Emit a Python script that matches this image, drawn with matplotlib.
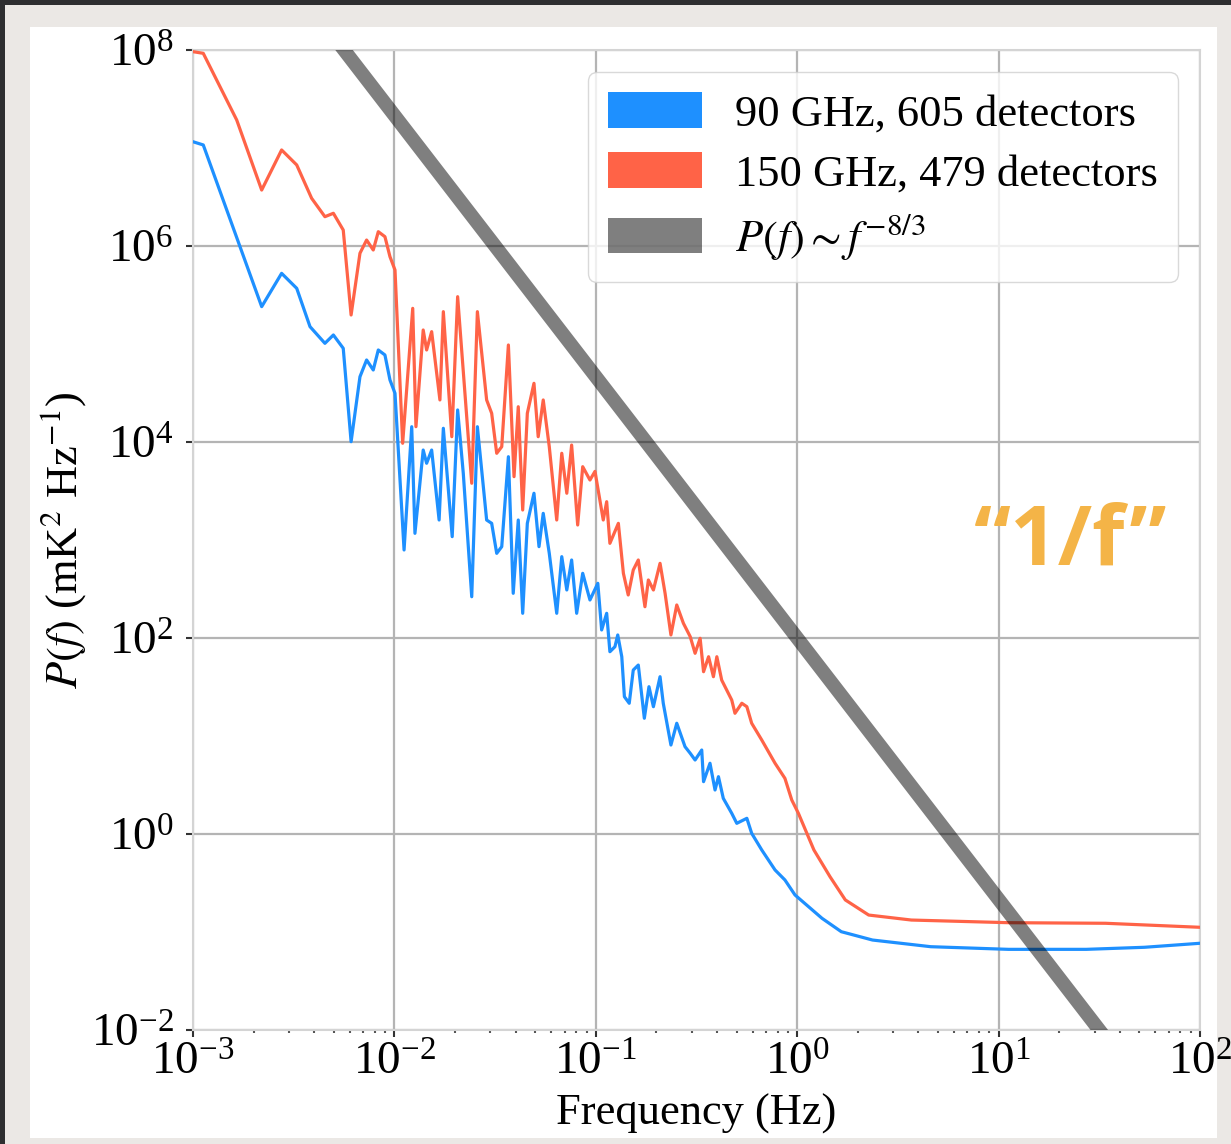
import numpy as np
import matplotlib
matplotlib.use("Agg")
import matplotlib.pyplot as plt
from matplotlib.patches import Patch, Rectangle

plt.rcParams['font.family'] = 'serif'
plt.rcParams['font.serif'] = ['Liberation Serif', 'DejaVu Serif']
plt.rcParams['mathtext.fontset'] = 'stix'

# ---------------------------------------------------------------
# Data (log10 frequency, log10 power)
# ---------------------------------------------------------------
log_freq_150 = [
    -3.000, -2.949, -2.783, -2.659, -2.560, -2.485, -2.411, -2.345, -2.303, -2.254,
    -2.215, -2.171, -2.138, -2.105, -2.080, -2.047, -2.022, -1.997, -1.959, -1.909,
    -1.893, -1.857, -1.840, -1.815, -1.774, -1.757, -1.715, -1.686, -1.661, -1.616,
    -1.588, -1.542, -1.517, -1.492, -1.467, -1.434, -1.406, -1.385, -1.363, -1.340,
    -1.307, -1.286, -1.261, -1.231, -1.194, -1.169, -1.144, -1.120, -1.090, -1.065,
    -1.029, -1.004, -0.963, -0.946, -0.930, -0.888, -0.863, -0.839, -0.814, -0.789,
    -0.756, -0.739, -0.714, -0.681, -0.656, -0.627, -0.598, -0.565, -0.531, -0.507,
    -0.482, -0.465, -0.440, -0.416, -0.399, -0.375, -0.325, -0.309, -0.275, -0.250,
    -0.226, -0.176, -0.110, -0.061, -0.027, 0.006, 0.083, 0.163, 0.239, 0.355,
    0.567, 1.049, 1.531, 2.000,
]
log_power_150 = [
    7.983, 7.966, 7.286, 6.571, 6.980, 6.827, 6.487, 6.299, 6.334, 6.163,
    5.296, 5.926, 6.061, 5.959, 6.146, 6.095, 5.891, 5.755, 3.987, 5.364,
    4.156, 5.143, 4.939, 5.126, 4.429, 5.330, 4.054, 5.483, 4.803, 3.579,
    5.330, 4.429, 4.293, 3.885, 3.952, 4.990, 3.646, 4.360, 3.306, 4.293,
    4.599, 4.054, 4.429, 3.952, 3.204, 3.885, 3.477, 3.969, 3.153, 3.748,
    3.612, 3.700, 3.204, 3.391, 2.966, 3.170, 2.660, 2.439, 2.694, 2.796,
    2.319, 2.592, 2.490, 2.762, 2.456, 2.031, 2.337, 2.150, 2.013, 1.844,
    1.997, 1.656, 1.809, 1.605, 1.809, 1.571, 1.367, 1.232, 1.334, 1.299,
    1.130, 0.959, 0.722, 0.568, 0.347, 0.211, -0.163, -0.436, -0.673, -0.827,
    -0.878, -0.905, -0.911, -0.952,
]

log_freq_90 = [
    -3.000, -2.949, -2.659, -2.560, -2.485, -2.419, -2.345, -2.303, -2.254, -2.215,
    -2.171, -2.138, -2.105, -2.080, -2.047, -2.022, -1.997, -1.952, -1.914, -1.898,
    -1.857, -1.840, -1.815, -1.778, -1.757, -1.713, -1.686, -1.658, -1.616, -1.588,
    -1.542, -1.517, -1.492, -1.467, -1.434, -1.410, -1.385, -1.363, -1.340, -1.307,
    -1.282, -1.261, -1.231, -1.194, -1.169, -1.144, -1.120, -1.095, -1.065, -1.029,
    -0.990, -0.971, -0.946, -0.930, -0.905, -0.891, -0.871, -0.858, -0.834, -0.814,
    -0.789, -0.759, -0.736, -0.714, -0.681, -0.665, -0.627, -0.598, -0.557, -0.531,
    -0.507, -0.474, -0.465, -0.433, -0.408, -0.391, -0.367, -0.325, -0.300, -0.250,
    -0.226, -0.176, -0.110, -0.061, -0.011, 0.123, 0.219, 0.374, 0.663, 1.049,
    1.435, 1.724, 2.000,
]
log_power_90 = [
    7.064, 7.031, 5.381, 5.721, 5.568, 5.177, 5.007, 5.092, 4.956, 4.003,
    4.666, 4.837, 4.735, 4.939, 4.888, 4.633, 4.497, 2.898, 4.156, 3.068,
    3.918, 3.783, 3.918, 3.204, 4.140, 3.034, 4.327, 3.681, 2.421, 4.156,
    3.204, 3.170, 2.864, 2.932, 3.850, 2.456, 3.204, 2.252, 3.170, 3.477,
    2.932, 3.272, 2.864, 2.252, 2.830, 2.490, 2.796, 2.252, 2.660, 2.388,
    2.558, 2.082, 2.252, 1.860, 1.911, 2.031, 1.809, 1.401, 1.334, 1.673,
    1.724, 1.181, 1.503, 1.299, 1.605, 1.334, 0.908, 1.130, 0.891, 0.823,
    0.755, 0.857, 0.534, 0.722, 0.449, 0.585, 0.364, 0.211, 0.109, 0.160,
    0.007, -0.163, -0.367, -0.469, -0.622, -0.860, -0.997, -1.082, -1.150, -1.177,
    -1.177, -1.156, -1.115,
]

# reference power law P(f) ~ f^(-8/3), normalised to 10^2 at 1 Hz
ref_amplitude = 1e2
ref_exponent = -8.0 / 3.0
ref_freq = [1e-3, 1e2]

labels = ["90 GHz, 605 detectors", "150 GHz, 479 detectors", r"$P(f) \sim f^{-8/3}$"]
colors = ["dodgerblue", "tomato", "black"]

freq_150 = 10 ** np.array(log_freq_150)
power_150 = 10 ** np.array(log_power_150)
freq_90 = 10 ** np.array(log_freq_90)
power_90 = 10 ** np.array(log_power_90)
ref_f = np.array(ref_freq)
ref_p = ref_amplitude * ref_f ** ref_exponent

# ---------------------------------------------------------------
# Figure with the slide-like frame around the plot
# ---------------------------------------------------------------
W, H = 1231, 1144
fig = plt.figure(figsize=(W / 100, H / 100), dpi=100, facecolor="#2e2e30")
fig.patches.append(Rectangle((5 / W, 0), 1 - 5 / W, 1 - 5 / H,
                             transform=fig.transFigure, facecolor="#ebe8e5",
                             edgecolor="none", zorder=-10))
fig.patches.append(Rectangle((30 / W, 6 / H), (1217 - 30) / W, (1138 - 27) / H,
                             transform=fig.transFigure, facecolor="white",
                             edgecolor="none", zorder=-9))

ax = fig.add_axes([193 / W, 1 - 1030 / H, (1200 - 193) / W, (1030 - 50) / H])

ax.plot(freq_90, power_90, color=colors[0], lw=2.3, zorder=3)
ax.plot(freq_150, power_150, color=colors[1], lw=2.3, zorder=3)
ax.plot(ref_f, ref_p, color=colors[2], lw=10, alpha=0.5, solid_capstyle="butt", zorder=4)

ax.set_xscale("log")
ax.set_yscale("log")
ax.set_xlim(1e-3, 1e2)
ax.set_ylim(1e-2, 1e8)
ax.set_yticks([1e-2, 1e0, 1e2, 1e4, 1e6, 1e8])
ax.yaxis.set_minor_locator(matplotlib.ticker.NullLocator())

ax.grid(True, which="major", color="#b4b4b4", lw=1.6)
ax.set_axisbelow(True)
for s in ax.spines.values():
    s.set_color("#d4d4d4")
    s.set_linewidth(1.5)

ax.tick_params(which="major", length=5, width=1.5, color="#333333", labelsize=34)
ax.tick_params(axis="y", which="major", pad=9)
ax.tick_params(axis="x", which="major", pad=4)
ax.tick_params(which="minor", length=2, width=1.5, color="#555555")

ax.set_xlabel("Frequency (Hz)", fontsize=32, labelpad=6)
ax.set_ylabel(r"$P(f)$ (mK$^2$ Hz$^{-1}$)", fontsize=32, labelpad=2)

handles = [Patch(facecolor=c, alpha=a, edgecolor="none")
           for c, a in zip(colors, [1, 1, 0.5])]
ax.legend(handles, labels, loc="upper right", fontsize=32, handlelength=2.1,
          handleheight=0.85, handletextpad=0.75, labelspacing=0.4,
          borderpad=0.45, framealpha=0.8, edgecolor="#d0d0d0")

ax.text(0.872, 0.497, "\u201c1/f\u201d", transform=ax.transAxes, family="Open Sans",
        fontweight="bold", fontsize=60, color="#f4b447", ha="center", va="center")

fig.savefig("out.png", dpi=100, facecolor=fig.get_facecolor())
